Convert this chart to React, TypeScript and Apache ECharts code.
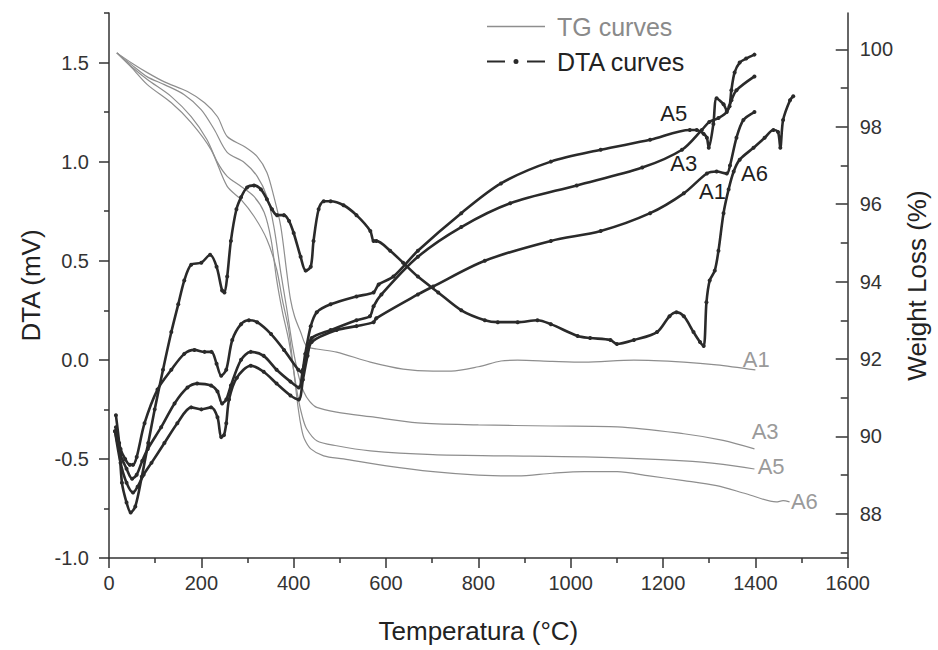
import React, { useEffect, useRef } from 'react';
import * as echarts from 'echarts';

// ---- axis ticks ----
const xTickValues = [0, 200, 400, 600, 800, 1000, 1200, 1400, 1600];
const dtaLabelValues = [-1, -0.5, 0, 0.5, 1, 1.5];
const dtaMinorValues = [-0.75, -0.25, 0.25, 0.75, 1.25, 1.75];
const wLabelValues = [88, 90, 92, 94, 96, 98, 100];
const wMinorValues = [87, 89, 91, 93, 95, 97, 99];

// ---- TG curves (temperature °C, weight %) ----
const tgA1: [number, number][] = [
  [17, 99.91], [49, 99.65], [83, 99.4], [120, 99.16], [170, 98.91], [207, 98.62], [235, 98.26],
  [256, 97.75], [293, 97.49], [321, 97.23], [342, 96.82], [357, 96.2], [372, 95.43], [385, 94.24],
  [393, 93.55], [402, 93.1], [415, 92.7], [428, 92.33], [450, 92.26], [493, 92.18], [566, 91.92],
  [637, 91.74], [702, 91.69], [741, 91.69], [800, 91.8], [849, 91.95], [885, 91.97], [960, 91.94],
  [1029, 91.92], [1137, 91.97], [1245, 91.92], [1316, 91.85], [1400, 91.72],
];
const tgA3: [number, number][] = [
  [17, 99.91], [49, 99.6], [83, 99.29], [120, 99.09], [163, 98.83], [200, 98.44], [228, 97.93],
  [256, 97.34], [293, 97.08], [321, 96.72], [342, 96.2], [357, 95.43], [372, 94.24], [385, 93.3],
  [398, 92.3], [410, 91.6], [422, 91.15], [435, 90.9], [450, 90.75], [493, 90.63], [566, 90.51],
  [669, 90.35], [800, 90.3], [957, 90.27], [1101, 90.25], [1245, 90.07], [1330, 89.9], [1398, 89.68],
];
const tgA5: [number, number][] = [
  [17, 99.91], [49, 99.55], [83, 99.22], [135, 98.78], [178, 98.26], [212, 97.67], [235, 97.08],
  [256, 96.72], [286, 96.46], [314, 96.2], [336, 95.79], [351, 95.09], [363, 94.06], [376, 93.2],
  [389, 92.5], [400, 91.7], [410, 90.97], [419, 90.5], [428, 90.2], [450, 89.89], [493, 89.76],
  [566, 89.63], [702, 89.53], [850, 89.5], [1029, 89.47], [1245, 89.37], [1330, 89.28], [1398, 89.16],
];
const tgA6: [number, number][] = [
  [17, 99.91], [49, 99.53], [83, 99.09], [135, 98.62], [178, 98.11], [221, 97.41], [256, 96.46],
  [286, 96.12], [314, 95.69], [342, 95.09], [363, 94.32], [376, 93.5], [389, 92.77], [400, 91.7],
  [410, 90.71], [417, 90.2], [423, 89.94], [437, 89.68], [465, 89.5], [508, 89.42], [601, 89.24],
  [702, 89.09], [800, 89.0], [885, 88.98], [960, 89.05], [1029, 89.09], [1101, 89.09], [1170, 88.98],
  [1245, 88.86], [1316, 88.73], [1380, 88.52], [1445, 88.31], [1460, 88.34], [1474, 88.31],
];

// ---- DTA curves (temperature °C, mV) ----
const dtaA6: [number, number][] = [
  [15, -0.28], [22, -0.42], [28, -0.62], [38, -0.72], [47, -0.77], [57, -0.74], [71, -0.59],
  [85, -0.42], [99, -0.25], [117, -0.05], [135, 0.14], [150, 0.28], [163, 0.4], [178, 0.48],
  [200, 0.49], [219, 0.53], [233, 0.47], [245, 0.35], [250, 0.34], [256, 0.42], [264, 0.6],
  [276, 0.76], [286, 0.82], [299, 0.87], [314, 0.88], [329, 0.86], [342, 0.81], [353, 0.76],
  [364, 0.73], [379, 0.73], [390, 0.7], [400, 0.64], [415, 0.52], [426, 0.45], [437, 0.47],
  [443, 0.6], [454, 0.76], [465, 0.8], [480, 0.8], [508, 0.78], [536, 0.73], [566, 0.65],
  [573, 0.6], [579, 0.6], [609, 0.55], [637, 0.49], [669, 0.42], [713, 0.34], [763, 0.25],
  [814, 0.2], [842, 0.19], [885, 0.19], [928, 0.2], [957, 0.18], [1015, 0.12], [1042, 0.11],
  [1086, 0.1], [1100, 0.08], [1137, 0.1], [1187, 0.14], [1214, 0.22], [1229, 0.24], [1245, 0.22],
  [1266, 0.14], [1280, 0.09], [1288, 0.07], [1294, 0.29], [1301, 0.4], [1312, 0.45], [1320, 0.55],
  [1331, 0.74], [1342, 0.86], [1353, 0.95], [1366, 1.01], [1396, 1.07], [1420, 1.12], [1439, 1.16],
  [1449, 1.15], [1454, 1.07], [1460, 1.21], [1475, 1.31], [1482, 1.33],
];
const dtaA5: [number, number][] = [
  [15, -0.34], [25, -0.45], [35, -0.5], [45, -0.53], [52, -0.53], [60, -0.49], [77, -0.32],
  [105, -0.15], [135, -0.05], [163, 0.03], [185, 0.05], [207, 0.04], [222, 0.04], [233, -0.02],
  [243, -0.08], [254, -0.05], [267, 0.1], [286, 0.18], [303, 0.2], [321, 0.19], [351, 0.13],
  [379, 0.05], [410, -0.05], [417, -0.06], [425, 0.03], [437, 0.17], [450, 0.24], [480, 0.28],
  [536, 0.32], [573, 0.34], [584, 0.38], [616, 0.42], [669, 0.55], [763, 0.74], [849, 0.89],
  [957, 1.0], [1065, 1.06], [1172, 1.11], [1258, 1.16], [1273, 1.16], [1288, 1.14], [1295, 1.12],
  [1299, 1.07], [1309, 1.19], [1316, 1.32], [1331, 1.29], [1338, 1.26], [1344, 1.28], [1348, 1.36],
  [1355, 1.45], [1366, 1.5], [1380, 1.52], [1398, 1.54],
];
const dtaA3: [number, number][] = [
  [13, -0.36], [25, -0.48], [38, -0.55], [50, -0.6], [60, -0.58], [72, -0.51], [84, -0.45],
  [113, -0.34], [142, -0.22], [170, -0.14], [191, -0.12], [221, -0.13], [235, -0.16], [245, -0.22],
  [254, -0.2], [264, -0.13], [286, 0.0], [307, 0.04], [335, 0.02], [363, -0.05], [393, -0.11],
  [411, -0.14], [420, -0.05], [430, 0.05], [439, 0.11], [480, 0.15], [536, 0.2], [565, 0.22],
  [573, 0.27], [590, 0.33], [669, 0.52], [763, 0.67], [869, 0.79], [1013, 0.88], [1155, 0.97],
  [1241, 1.06], [1284, 1.16], [1300, 1.2], [1320, 1.22], [1338, 1.25], [1348, 1.31], [1359, 1.36],
  [1398, 1.43],
];
const dtaA1: [number, number][] = [
  [13, -0.36], [25, -0.52], [38, -0.62], [52, -0.67], [62, -0.64], [75, -0.58], [92, -0.52],
  [120, -0.42], [148, -0.32], [178, -0.24], [200, -0.25], [221, -0.24], [235, -0.29], [243, -0.39],
  [249, -0.38], [254, -0.32], [260, -0.2], [277, -0.09], [307, -0.03], [335, -0.06], [363, -0.12],
  [393, -0.18], [411, -0.2], [420, -0.1], [430, 0.02], [439, 0.09], [493, 0.15], [536, 0.17],
  [573, 0.19], [579, 0.21], [669, 0.33], [702, 0.37], [814, 0.5], [957, 0.6], [1065, 0.65],
  [1172, 0.74], [1245, 0.84], [1295, 0.94], [1316, 0.95], [1338, 0.94], [1345, 0.98], [1359, 1.12],
  [1374, 1.21], [1398, 1.25],
];

// ---- curve labels (name, temperature, value) ----
const tgLabels: [string, number, number][] = [
  ['A1', 1402, 92.0], ['A3', 1421, 90.14], ['A5', 1434, 89.22], ['A6', 1506, 88.31],
];
const dtaLabels: [string, number, number][] = [
  ['A1', 1307, 0.85], ['A3', 1245, 0.99], ['A5', 1223, 1.244], ['A6', 1398, 0.94],
];

const FONT = "'Liberation Sans', Arial, Helvetica, sans-serif";
const TG_COLOR = '#8e8e8e';
const DTA_COLOR = '#2a2a2a';
const AXIS_COLOR = '#333';

const anchor = 'M0,0h0.01v0.01h-0.01z M57.99,7.99h0.01v0.01h-0.01z';
const tgIcon = 'path://M0,3.3h58v1.4h-58z ' + anchor;
const dtaIcon = 'path://M0,3.1h18v1.8h-18z M40,3.1h18v1.8h-18z M31.5,4a2.5,2.5 0 1,0 -5,0a2.5,2.5 0 1,0 5,0z ' + anchor;

function labelPoint(lbl: [string, number, number] | undefined, color: string) {
  if (!lbl) return undefined;
  return {
    symbol: 'circle',
    symbolSize: 1,
    silent: true,
    itemStyle: { color: 'rgba(0,0,0,0)' },
    label: { show: true, position: 'inside', formatter: lbl[0], fontSize: 22, color, fontFamily: FONT },
    data: [{ coord: [lbl[1], lbl[2]] }],
  };
}

function tgSeries(name: string, data: [number, number][]) {
  return {
    type: 'line',
    name: 'TG curves',
    yAxisIndex: 1,
    data,
    showSymbol: false,
    symbol: 'none',
    smooth: 0.3,
    lineStyle: { color: TG_COLOR, width: 1.2 },
    itemStyle: { color: TG_COLOR, borderWidth: 0 },
    markPoint: labelPoint(tgLabels.find((l) => l[0] === name), '#9a9a9a'),
    z: 2,
  };
}

function dtaSeries(name: string, data: [number, number][]) {
  return {
    type: 'line',
    name: 'DTA curves',
    yAxisIndex: 0,
    data,
    symbol: 'circle',
    symbolSize: 4,
    showSymbol: true,
    smooth: 0.3,
    lineStyle: { color: DTA_COLOR, width: 2.6 },
    itemStyle: { color: DTA_COLOR, borderWidth: 0 },
    markPoint: labelPoint(dtaLabels.find((l) => l[0] === name), '#1e1e1e'),
    z: 3,
  };
}

export default function App() {
  const ref = useRef<HTMLDivElement>(null);
  useEffect(() => {
    if (!ref.current) return;
    const chart = echarts.init(ref.current, null, { renderer: 'svg' });
    const axisLine = { show: true, onZero: false, lineStyle: { color: AXIS_COLOR, width: 1.5 } };
    const option: any = {
      animation: false,
      backgroundColor: '#ffffff',
      textStyle: { fontFamily: FONT },
      grid: { left: 109, right: 87, top: 13, bottom: 92, containLabel: false },
      legend: {
        left: 482,
        top: 9,
        orient: 'vertical',
        itemWidth: 58,
        itemHeight: 8,
        itemGap: 10,
        selectedMode: false,
        textStyle: { fontSize: 25, lineHeight: 25, padding: [0, 0, 0, 7], fontFamily: FONT },
        data: [
          { name: 'TG curves', icon: tgIcon, itemStyle: { color: TG_COLOR, borderWidth: 0 }, textStyle: { color: '#8a8a8a' } },
          { name: 'DTA curves', icon: dtaIcon, itemStyle: { color: DTA_COLOR, borderWidth: 0 }, textStyle: { color: '#222' } },
        ],
      },
      xAxis: {
        type: 'value',
        min: xTickValues[0],
        max: xTickValues[xTickValues.length - 1],
        interval: 200,
        name: 'Temperatura (°C)',
        nameLocation: 'middle',
        nameGap: 60,
        nameTextStyle: { fontSize: 26, color: '#222', fontFamily: FONT },
        axisLine,
        axisTick: { show: true, inside: false, length: 10, lineStyle: { color: AXIS_COLOR, width: 1.5 } },
        minorTick: { show: true, splitNumber: 2, length: 5, lineStyle: { color: AXIS_COLOR, width: 1.5 } },
        axisLabel: { fontSize: 20, color: '#333', margin: 15, fontFamily: FONT, formatter: (v: number) => String(v) },
        splitLine: { show: false },
        minorSplitLine: { show: false },
      },
      yAxis: [
        {
          type: 'value',
          position: 'left',
          min: -1,
          max: 1.75,
          name: 'DTA (mV)',
          nameLocation: 'middle',
          nameRotate: 90,
          nameGap: 64,
          nameTextStyle: { fontSize: 26, color: '#222', fontFamily: FONT },
          axisLine,
          axisTick: { show: true, inside: false, length: 10, customValues: dtaLabelValues, lineStyle: { color: AXIS_COLOR, width: 1.5 } },
          axisLabel: {
            fontSize: 20, color: '#333', margin: 20, customValues: dtaLabelValues, fontFamily: FONT,
            formatter: (v: number) => v.toFixed(1),
          },
          splitLine: { show: false },
        },
        {
          type: 'value',
          position: 'right',
          min: 86.86,
          max: 100.94,
          name: 'Weight Loss (%)',
          nameLocation: 'middle',
          nameRotate: 90,
          nameGap: 56,
          nameTextStyle: { fontSize: 26, color: '#222', fontFamily: FONT },
          axisLine,
          axisTick: { show: true, inside: true, length: 12, customValues: wLabelValues, lineStyle: { color: AXIS_COLOR, width: 1.5 } },
          axisLabel: { fontSize: 20, color: '#333', margin: 12, customValues: wLabelValues, fontFamily: FONT },
          splitLine: { show: false },
        },
        {
          type: 'value',
          position: 'left',
          min: -1,
          max: 1.75,
          axisLine: { show: false, onZero: false },
          axisTick: { show: true, inside: false, length: 5, customValues: dtaMinorValues, lineStyle: { color: AXIS_COLOR, width: 1.5 } },
          axisLabel: { show: false },
          splitLine: { show: false },
        },
        {
          type: 'value',
          position: 'right',
          min: 86.86,
          max: 100.94,
          axisLine: { show: false, onZero: false },
          axisTick: { show: true, inside: true, length: 7, customValues: wMinorValues, lineStyle: { color: AXIS_COLOR, width: 1.5 } },
          axisLabel: { show: false },
          splitLine: { show: false },
        },
      ],
      series: [
        tgSeries('A1', tgA1),
        tgSeries('A3', tgA3),
        tgSeries('A5', tgA5),
        tgSeries('A6', tgA6),
        dtaSeries('A1', dtaA1),
        dtaSeries('A3', dtaA3),
        dtaSeries('A5', dtaA5),
        dtaSeries('A6', dtaA6),
      ],
    };
    chart.setOption(option);
    return () => chart.dispose();
  }, []);
  return (
    <div
      ref={ref}
      style={{ position: 'fixed', left: 0, top: 0, width: 938, height: 650, background: '#fff' }}
    />
  );
}
